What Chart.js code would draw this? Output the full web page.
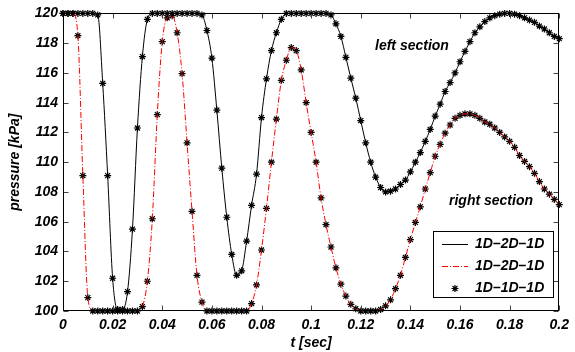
<!DOCTYPE html>
<html>
<head>
<meta charset="utf-8">
<script src="https://cdn.jsdelivr.net/npm/chart.js"></script>
<style>
  html, body { margin: 0; padding: 0; background: #fff; }
  canvas { display: block; }
</style>
</head>
<body>
<canvas id="pressureChart" width="575" height="352"></canvas>
<script>
// sampling grid: 0 .. 0.2 s every 2 ms
const timeSec = Array.from({ length: 101 }, (_, i) => +(i * 0.002).toFixed(3));

// left section pressure [kPa]
const pLeft = [
  120, 120, 120, 120, 120, 120, 120, 119.9, 115.3, 109.1,
  102.2, 100.1, 100.1, 101.3, 105.5, 112.3, 117.1, 119.6, 120, 120,
  120, 120, 120, 120, 120, 120, 120, 120, 119.9, 118.85,
  117.0, 113.5, 109.6, 106.3, 103.8, 102.4, 102.7, 104.7, 107.1, 109.2,
  113.0, 115.6, 117.5, 118.7, 119.6, 120, 120, 120, 120, 120,
  120, 120, 120, 120, 119.9, 119.3, 118.45, 117.05, 115.65, 114.3,
  112.8, 111.3, 110.0, 109.0, 108.3, 108.0, 108.05, 108.2, 108.5, 108.8,
  109.35, 110.0, 110.65, 111.4, 112.2, 113.1, 113.9, 114.75, 115.35, 116.0,
  116.75, 117.45, 118.1, 118.7, 119.1, 119.45, 119.7, 119.85, 119.95, 120,
  120, 119.95, 119.85, 119.7, 119.55, 119.4, 119.15, 118.95, 118.7, 118.45,
  118.3
];

// right section pressure [kPa]
const pRight = [
  120, 120, 120, 118.5, 109.1, 100.9, 100, 100, 100, 100,
  100, 100, 100, 100, 100, 100, 100.3, 102.0, 106.2, 113.2,
  118.1, 119.7, 119.85, 118.7, 115.95, 111.3, 106.7, 102.4, 100.6, 100,
  100, 100, 100, 100, 100, 100, 100, 100, 100.5, 101.75,
  104.1, 106.9, 110.0, 112.9, 115.5, 116.85, 117.7, 117.5, 116.2, 114.0,
  112.0, 110.0, 107.6, 105.8, 104.3, 102.9, 101.8, 101.0, 100.45, 100.15,
  100, 100, 100, 100, 100.1, 100.35, 100.75, 101.5, 102.4, 103.6,
  104.8, 105.95, 107.0, 108.2, 109.3, 110.4, 111.2, 111.95, 112.5, 112.95,
  113.15, 113.25, 113.25, 113.15, 112.95, 112.7, 112.55, 112.3, 112.0, 111.7,
  111.4, 111.0, 110.45, 110.05, 109.7, 109.25, 108.7, 108.2, 107.85, 107.5,
  107.15
];

// the 1D-1D-1D model lies on the same curves
const p1DLeft = pLeft;
const p1DRight = pRight;

const xTicks = [0, 0.02, 0.04, 0.06, 0.08, 0.1, 0.12, 0.14, 0.16, 0.18, 0.2];
const yTicks = [100, 102, 104, 106, 108, 110, 112, 114, 116, 118, 120];

const seriesLabels = ['1D\u20132D\u20131D', '1D\u20132D\u20131D', '1D\u20131D\u20131D'];

const FONT = '"Liberation Sans", Arial, sans-serif';
const tickFont = { family: FONT, size: 14, style: 'italic', weight: 'bold' };

function toXY(values) {
  return values.map((v, i) => ({ x: timeSec[i], y: v }));
}

function drawStar(ctx, x, y, r) {
  ctx.beginPath();
  ctx.moveTo(x - r, y); ctx.lineTo(x + r, y);
  ctx.moveTo(x, y - r); ctx.lineTo(x, y + r);
  const d = r * 0.7071;
  ctx.moveTo(x - d, y - d); ctx.lineTo(x + d, y + d);
  ctx.moveTo(x - d, y + d); ctx.lineTo(x + d, y - d);
  ctx.stroke();
}

// frame, inward ticks, axis titles, notes, legend
const decorations = {
  id: 'decorations',
  afterDatasetsDraw(chart) {
    const ctx = chart.ctx;
    const a = chart.chartArea;
    const xs = chart.scales.x, ys = chart.scales.y;
    const L = Math.round(a.left) + 0.5, R = Math.round(a.right) - 0.5;
    const T = Math.round(a.top) + 0.5, B = Math.round(a.bottom) - 0.5;
    ctx.save();

    // ticks pointing inwards on all four sides
    ctx.strokeStyle = '#444';
    ctx.lineWidth = 1;
    ctx.beginPath();
    xTicks.forEach(v => {
      const px = Math.round(xs.getPixelForValue(v)) + 0.5;
      ctx.moveTo(px, B); ctx.lineTo(px, B - 5);
      ctx.moveTo(px, T); ctx.lineTo(px, T + 5);
    });
    yTicks.forEach(v => {
      const py = Math.round(ys.getPixelForValue(v)) + 0.5;
      ctx.moveTo(L, py); ctx.lineTo(L + 5, py);
      ctx.moveTo(R, py); ctx.lineTo(R - 5, py);
    });
    ctx.stroke();

    ctx.strokeStyle = '#000';
    ctx.strokeRect(L, T, R - L, B - T);

    // axis titles
    ctx.fillStyle = '#000';
    ctx.font = 'italic bold 14px ' + FONT;
    ctx.textAlign = 'center';
    ctx.textBaseline = 'middle';
    ctx.fillText('t [sec]', (a.left + a.right) / 2, 343);
    ctx.save();
    ctx.translate(15, (a.top + a.bottom) / 2);
    ctx.rotate(-Math.PI / 2);
    ctx.fillText('pressure [kPa]', 0, 0);
    ctx.restore();

    // section notes
    ctx.textAlign = 'left';
    ctx.fillText('left section', 375, 46);
    ctx.fillText('right section', 449, 201);

    // legend
    const bx = 433.5, by = 231.5, bw = 120, bh = 66;
    ctx.fillStyle = '#fff';
    ctx.fillRect(bx, by, bw, bh);
    ctx.strokeStyle = '#000';
    ctx.strokeRect(bx, by, bw, bh);
    const rows = [244, 266.5, 288.5];
    ctx.lineWidth = 1;
    ctx.strokeStyle = '#000';
    ctx.beginPath(); ctx.moveTo(442, rows[0] + 0.5); ctx.lineTo(468, rows[0] + 0.5); ctx.stroke();
    ctx.strokeStyle = '#ff0000';
    ctx.setLineDash([6, 2, 1, 2]);
    ctx.beginPath(); ctx.moveTo(442, rows[1]); ctx.lineTo(468, rows[1]); ctx.stroke();
    ctx.setLineDash([]);
    ctx.strokeStyle = '#000';
    ctx.lineWidth = 1.2;
    drawStar(ctx, 455, rows[2], 3.5);
    ctx.fillStyle = '#000';
    ctx.textAlign = 'left';
    seriesLabels.forEach((t, i) => ctx.fillText(t, 475, rows[i]));

    ctx.restore();
  }
};

const canvas = document.getElementById('pressureChart');
if (canvas) {
  new Chart(canvas.getContext('2d'), {
    type: 'line',
    data: {
      datasets: [
        {
          label: seriesLabels[0],
          data: toXY(pLeft),
          borderColor: '#000',
          borderWidth: 1,
          pointRadius: 0,
          cubicInterpolationMode: 'monotone',
          fill: false
        },
        {
          label: seriesLabels[1],
          data: toXY(pRight),
          borderColor: '#ff0000',
          borderWidth: 1,
          borderDash: [6, 2, 1, 2],
          pointRadius: 0,
          cubicInterpolationMode: 'monotone',
          fill: false
        },
        {
          label: seriesLabels[2],
          data: toXY(p1DLeft),
          showLine: false,
          pointStyle: 'star',
          pointRadius: 3.5,
          pointBorderWidth: 1.2,
          pointBorderColor: '#000',
          pointBackgroundColor: '#000',
          clip: false
        },
        {
          label: seriesLabels[2],
          data: toXY(p1DRight),
          showLine: false,
          pointStyle: 'star',
          pointRadius: 3.5,
          pointBorderWidth: 1.2,
          pointBorderColor: '#000',
          pointBackgroundColor: '#000',
          clip: false
        }
      ]
    },
    options: {
      responsive: false,
      animation: false,
      layout: { padding: { left: 0, right: 12, top: 13, bottom: 0 } },
      plugins: {
        legend: { display: false },
        tooltip: { enabled: false }
      },
      scales: {
        x: {
          type: 'linear',
          min: 0,
          max: 0.2,
          grid: { display: false, drawTicks: false },
          border: { display: false },
          afterFit: s => { s.height = 41; },
          afterBuildTicks: s => { s.ticks = xTicks.map(v => ({ value: v })); },
          ticks: {
            padding: 6,
            color: '#000',
            font: tickFont,
            maxRotation: 0,
            callback: v => String(+(+v).toFixed(2))
          }
        },
        y: {
          min: 100,
          max: 120,
          grid: { display: false, drawTicks: false },
          border: { display: false },
          afterFit: s => { s.width = 63; },
          afterBuildTicks: s => { s.ticks = yTicks.map(v => ({ value: v })); },
          ticks: {
            padding: 5,
            color: '#000',
            font: tickFont
          }
        }
      }
    },
    plugins: [decorations]
  });
}
</script>
</body>
</html>
